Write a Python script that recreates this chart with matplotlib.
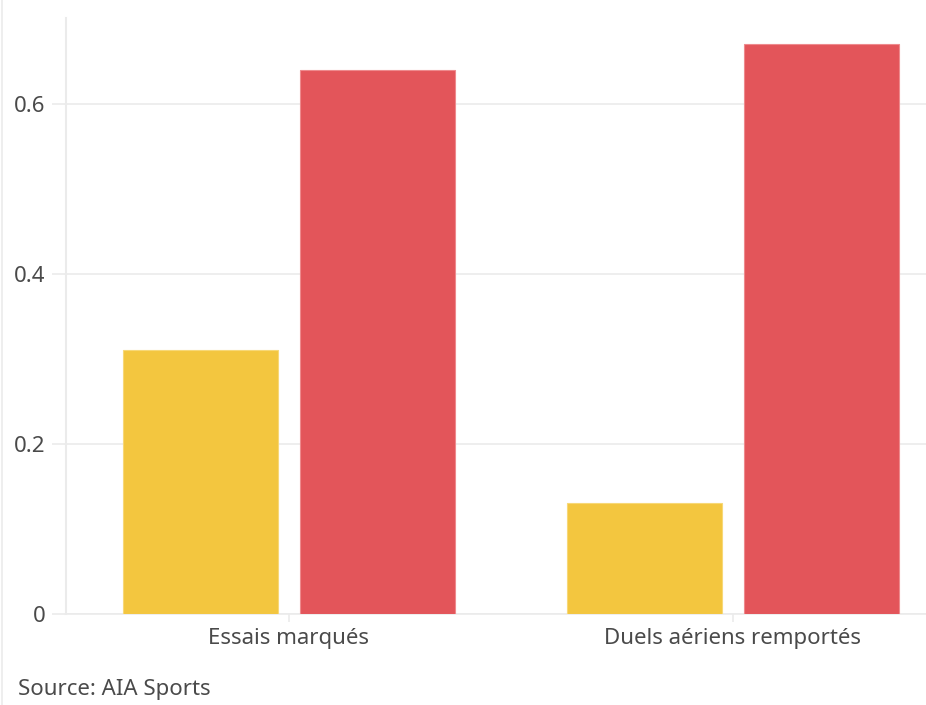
import matplotlib.pyplot as plt
import numpy as np

categories = ['Essais marqués', 'Duels aériens remportés']
serie_jaune = [0.31, 0.13]
serie_rouge = [0.64, 0.67]
yticks = [0, 0.2, 0.4, 0.6]
ytick_labels = ['0', '0.2', '0.4', '0.6']

plt.rcParams['font.family'] = ['Noto Sans', 'DejaVu Sans']
grey = '#EBEBEB'
txt = '#4A4A4A'

fig = plt.figure(figsize=(9.26, 7.05), dpi=100)
ax = fig.add_axes([66/926, 91/705, 1 - 66/926, (614-18)/705])

x = np.arange(len(categories))
w = 0.349
ax.bar(x - 0.2, serie_jaune, w, color='#F3C63F', edgecolor='#F7D877', linewidth=0.8, zorder=3)
ax.bar(x + 0.2, serie_rouge, w, color='#E3555A', edgecolor='#EE8A8D', linewidth=0.8, zorder=3)

ax.set_xlim(-0.502, 1.435)
ax.set_ylim(0, 0.701)
ax.set_yticks(yticks)
ax.set_yticklabels(ytick_labels)
ax.set_xticks(x)
ax.set_xticklabels(categories)
ax.grid(axis='y', color=grey, linewidth=1.2, zorder=0)

for s in ['top', 'right']:
    ax.spines[s].set_visible(False)
ax.spines['left'].set_color(grey)
ax.spines['left'].set_linewidth(1.5)
ax.spines['bottom'].set_color(grey)
ax.spines['bottom'].set_linewidth(1.2)
ax.tick_params(axis='y', length=10, width=1.2, color=grey, pad=5, labelsize=16, labelcolor=txt)
ax.tick_params(axis='x', length=6, width=1.2, color=grey, pad=4, labelsize=16, labelcolor=txt)

fig.text(18/926, 1 - 690/705, 'Source: AIA Sports', fontsize=16, color=txt, va='center', ha='left')
fig.add_artist(plt.Line2D([1.5/926, 1.5/926], [0, 1], color=grey, linewidth=1.2))

fig.savefig('out.png', dpi=100)
